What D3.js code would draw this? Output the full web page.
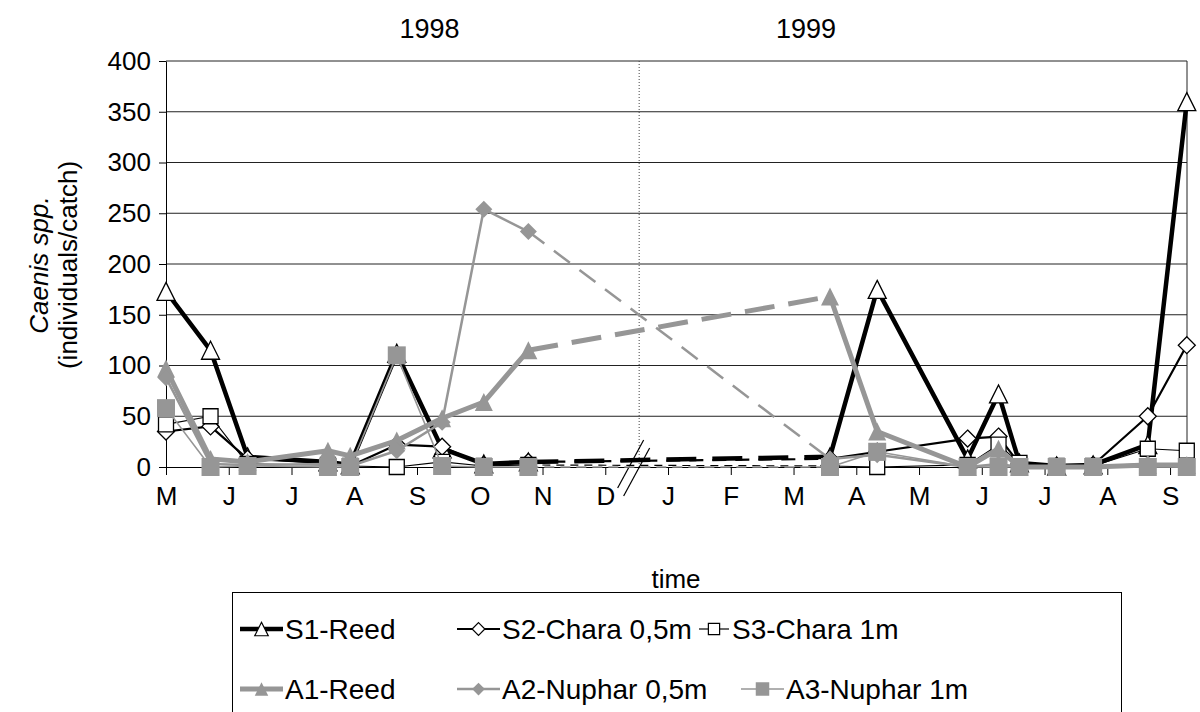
<!DOCTYPE html>
<html>
<head>
<meta charset="utf-8">
<script src="https://cdn.jsdelivr.net/npm/d3@7"></script>
<style>
  body { margin: 0; background: #fff; }
  svg { display: block; }
  text { font-family: "Liberation Sans", Arial, sans-serif; fill: #000; }
</style>
</head>
<body>
<svg id="chart" width="1200" height="712"></svg>
<script>
// Sampling dates (1998 season, winter gap, 1999 season)
const sampleDates = [
  "1998-05-01", "1998-05-23", "1998-06-10", "1998-07-19", "1998-07-30",
  "1998-08-22", "1998-09-13", "1998-10-03", "1998-10-25",
  "1999-03-19", "1999-04-11", "1999-05-25", "1999-06-09", "1999-06-19",
  "1999-07-07", "1999-07-25", "1999-08-21", "1999-09-09"
];

// Caenis spp. individuals per catch at each station
const s1Reed      = [173, 115, 10, 5, 2, 112, 18, 3, 5,   10, 175, 8, 72, 4, 1, 2, 22, 360];
const s2Chara05   = [35, 40, 8, 4, 1, 22, 20, 2, 5,      8, 15, 28, 30, 3, 1, 2, 50, 120];
const s3Chara1    = [42, 50, 3, 2, 1, 0, 5, 1, 2,        1, 0, 2, 22, 4, 1, 1, 18, 16];
const a1Reed      = [97, 8, 5, 16, 11, 26, 48, 64, 115,  168, 35, 0, 18, 0, 0, 0, 2, 2];
const a2Nuphar05  = [88, 3, 2, 3, 1, 16, 44, 254, 232,   8, 12, 0, 3, 0, 0, 0, 3, 0];
const a3Nuphar1   = [58, 0, 1, 0, 0, 110, 1, 0, 0,       0, 15, 0, 0, 0, 0, 0, 0, 0];

const seriesNames = ["S1-Reed", "S2-Chara 0,5m", "S3-Chara 1m", "A1-Reed", "A2-Nuphar 0,5m", "A3-Nuphar 1m"];
const seriesValues = [s1Reed, s2Chara05, s3Chara1, a1Reed, a2Nuphar05, a3Nuphar1];

// Axis labels
const monthLabels = ["M", "J", "J", "A", "S", "O", "N", "D", "J", "F", "M", "A", "M", "J", "J", "A", "S"];
const yearLabels = ["1998", "1999"];
const yearLabelMonths = [4.2, 10.2];
const yTicks = [0, 50, 100, 150, 200, 250, 300, 350, 400];

// Month index counted from May 1998, with fractional day within the month
function monthIndex(s) {
  const [yy, mm, dd] = s.split("-").map(Number);
  const days = new Date(yy, mm, 0).getDate();
  return (yy - 1998) * 12 + (mm - 5) + (dd - 1) / days;
}

const GRAY = "#969696";
const FONT = 26;
const styles = [
  { color: "#000", width: 4.5, shape: "triangle", fill: "#fff", size: 18, dash: "30,16" },
  { color: "#000", width: 2.2, shape: "diamond",  fill: "#fff", size: 17, dash: "14,9" },
  { color: "#000", width: 1.2, shape: "square",   fill: "#fff", size: 15, dash: "8,6" },
  { color: GRAY,   width: 5,   shape: "triangle", fill: GRAY,   size: 18, dash: "30,14" },
  { color: GRAY,   width: 2.5, shape: "diamond",  fill: GRAY,   size: 17, dash: "20,12" },
  { color: GRAY,   width: 1.6, shape: "square",   fill: GRAY,   size: 18, dash: "10,6" }
];

// Marker shapes drawn by side length in pixels
const shapes = {
  triangle: { draw(ctx, s) { const h = s / 2; ctx.moveTo(0, -h); ctx.lineTo(h, h); ctx.lineTo(-h, h); ctx.closePath(); } },
  diamond:  { draw(ctx, s) { const h = s / 2; ctx.moveTo(0, -h); ctx.lineTo(h, 0); ctx.lineTo(0, h); ctx.lineTo(-h, 0); ctx.closePath(); } },
  square:   { draw(ctx, s) { const h = s / 2; ctx.rect(-h, -h, s, s); } }
};
const markerPath = (shape, s) => d3.symbol().type(shapes[shape]).size(s)();

const svg = d3.select("#chart");
const plot = { left: 166, right: 1187, top: 61, bottom: 467 };

const x = d3.scaleLinear().domain([0, 16.27]).range([plot.left, plot.right]);
const y = d3.scaleLinear().domain([0, 400]).range([plot.bottom, plot.top]);

// Horizontal gridlines
svg.append("g").selectAll("line").data(yTicks.filter(v => v > 0)).join("line")
  .attr("x1", plot.left).attr("x2", plot.right)
  .attr("y1", d => y(d)).attr("y2", d => y(d))
  .attr("stroke", "#222").attr("stroke-width", 1);

// Right border
svg.append("line").attr("x1", plot.right).attr("x2", plot.right)
  .attr("y1", plot.top).attr("y2", plot.bottom).attr("stroke", "#222");

// Year separator (dotted)
svg.append("line").attr("x1", x(7.54)).attr("x2", x(7.54))
  .attr("y1", y(400)).attr("y2", plot.bottom)
  .attr("stroke", "#444").attr("stroke-width", 1).attr("stroke-dasharray", "1,2");

// Axes
const xAxis = svg.append("g").attr("transform", `translate(0,${plot.bottom})`)
  .call(d3.axisBottom(x).tickValues(d3.range(monthLabels.length))
    .tickFormat(i => monthLabels[i]).tickSize(8).tickPadding(12).tickSizeOuter(0));
xAxis.selectAll("text").attr("font-size", FONT).attr("font-family", "Liberation Sans, Arial, sans-serif");
xAxis.selectAll("line, path").attr("stroke", "#000");

const yAxis = svg.append("g").attr("transform", `translate(${plot.left},0)`)
  .call(d3.axisLeft(y).tickValues(yTicks).tickSize(7).tickPadding(8).tickSizeOuter(0));
yAxis.selectAll("text").attr("font-size", FONT).attr("font-family", "Liberation Sans, Arial, sans-serif");
yAxis.selectAll("line, path").attr("stroke", "#000");

// Axis break marks between December and January
const bx = x(7.5);
[[-19, 0], [-13, 8]].forEach(([dx, dy]) => {
  svg.append("line")
    .attr("x1", bx + dx).attr("y1", plot.bottom + 21 + dy)
    .attr("x2", bx + dx + 26).attr("y2", plot.bottom - 27 + dy)
    .attr("stroke", "#000").attr("stroke-width", 1.2);
});

// Year labels
svg.append("g").selectAll("text").data(yearLabels).join("text")
  .attr("x", (d, i) => x(yearLabelMonths[i])).attr("y", 38)
  .attr("text-anchor", "middle").attr("font-size", 27).text(d => d);

// Axis titles
svg.append("text").attr("x", 676).attr("y", 588).attr("text-anchor", "middle")
  .attr("font-size", FONT).text("time");
const yt = svg.append("g").attr("transform", "translate(48,265) rotate(-90)");
yt.append("text").attr("text-anchor", "middle").attr("font-size", FONT)
  .attr("font-style", "italic").text("Caenis spp.");
yt.append("text").attr("y", 29).attr("text-anchor", "middle").attr("font-size", FONT)
  .text("(individuals/catch)");

// Series
const xs = sampleDates.map(monthIndex);
let gapAt = -1;
for (let i = 0; i < xs.length - 1; i++) if (xs[i + 1] - xs[i] > 3) gapAt = i;

const line = d3.line().x(d => x(d[0])).y(d => y(d[1]));
const gSeries = svg.append("g");
seriesValues.forEach((vals, k) => {
  const st = styles[k];
  const pts = vals.map((v, i) => [xs[i], v]);
  const g = gSeries.append("g");
  const parts = [pts.slice(0, gapAt + 1), pts.slice(gapAt + 1)];
  parts.forEach(p => g.append("path").attr("d", line(p)).attr("fill", "none")
    .attr("stroke", st.color).attr("stroke-width", st.width).attr("stroke-linejoin", "round"));
  g.append("path").attr("d", line(pts.slice(gapAt, gapAt + 2))).attr("fill", "none")
    .attr("stroke", st.color).attr("stroke-width", st.width).attr("stroke-dasharray", st.dash);
  g.selectAll("path.mk").data(pts).join("path").attr("class", "mk")
    .attr("transform", d => `translate(${x(d[0])},${y(d[1])})`)
    .attr("d", markerPath(st.shape, st.size))
    .attr("fill", st.fill).attr("stroke", st.fill === "#fff" ? "#000" : "none").attr("stroke-width", 1.3);
});

// Legend: sample line start, sample length, text start per entry
const legend = svg.append("g");
legend.append("rect").attr("x", 232.5).attr("y", 592.5).attr("width", 889).attr("height", 140)
  .attr("fill", "#fff").attr("stroke", "#000");
const legendItems = [
  [240, 43, 285], [457, 43, 502], [699, 30, 732],
  [240, 43, 285], [457, 43, 502], [741, 43, 786]
];
const legendRows = [629, 689];
seriesNames.forEach((name, k) => {
  const st = styles[k];
  const [lx, len, tx] = legendItems[k];
  const ly = legendRows[Math.floor(k / 3)];
  const item = legend.append("g");
  item.append("line").attr("x1", lx).attr("x2", lx + len).attr("y1", ly).attr("y2", ly)
    .attr("stroke", st.color).attr("stroke-width", st.width);
  item.append("path").attr("transform", `translate(${lx + len / 2},${ly})`)
    .attr("d", markerPath(st.shape, st.size * 0.75))
    .attr("fill", st.fill).attr("stroke", st.fill === "#fff" ? "#000" : "none").attr("stroke-width", 1.2);
  item.append("text").attr("x", tx).attr("y", ly + 10).attr("font-size", 28).text(name);
});
</script>
</body>
</html>
